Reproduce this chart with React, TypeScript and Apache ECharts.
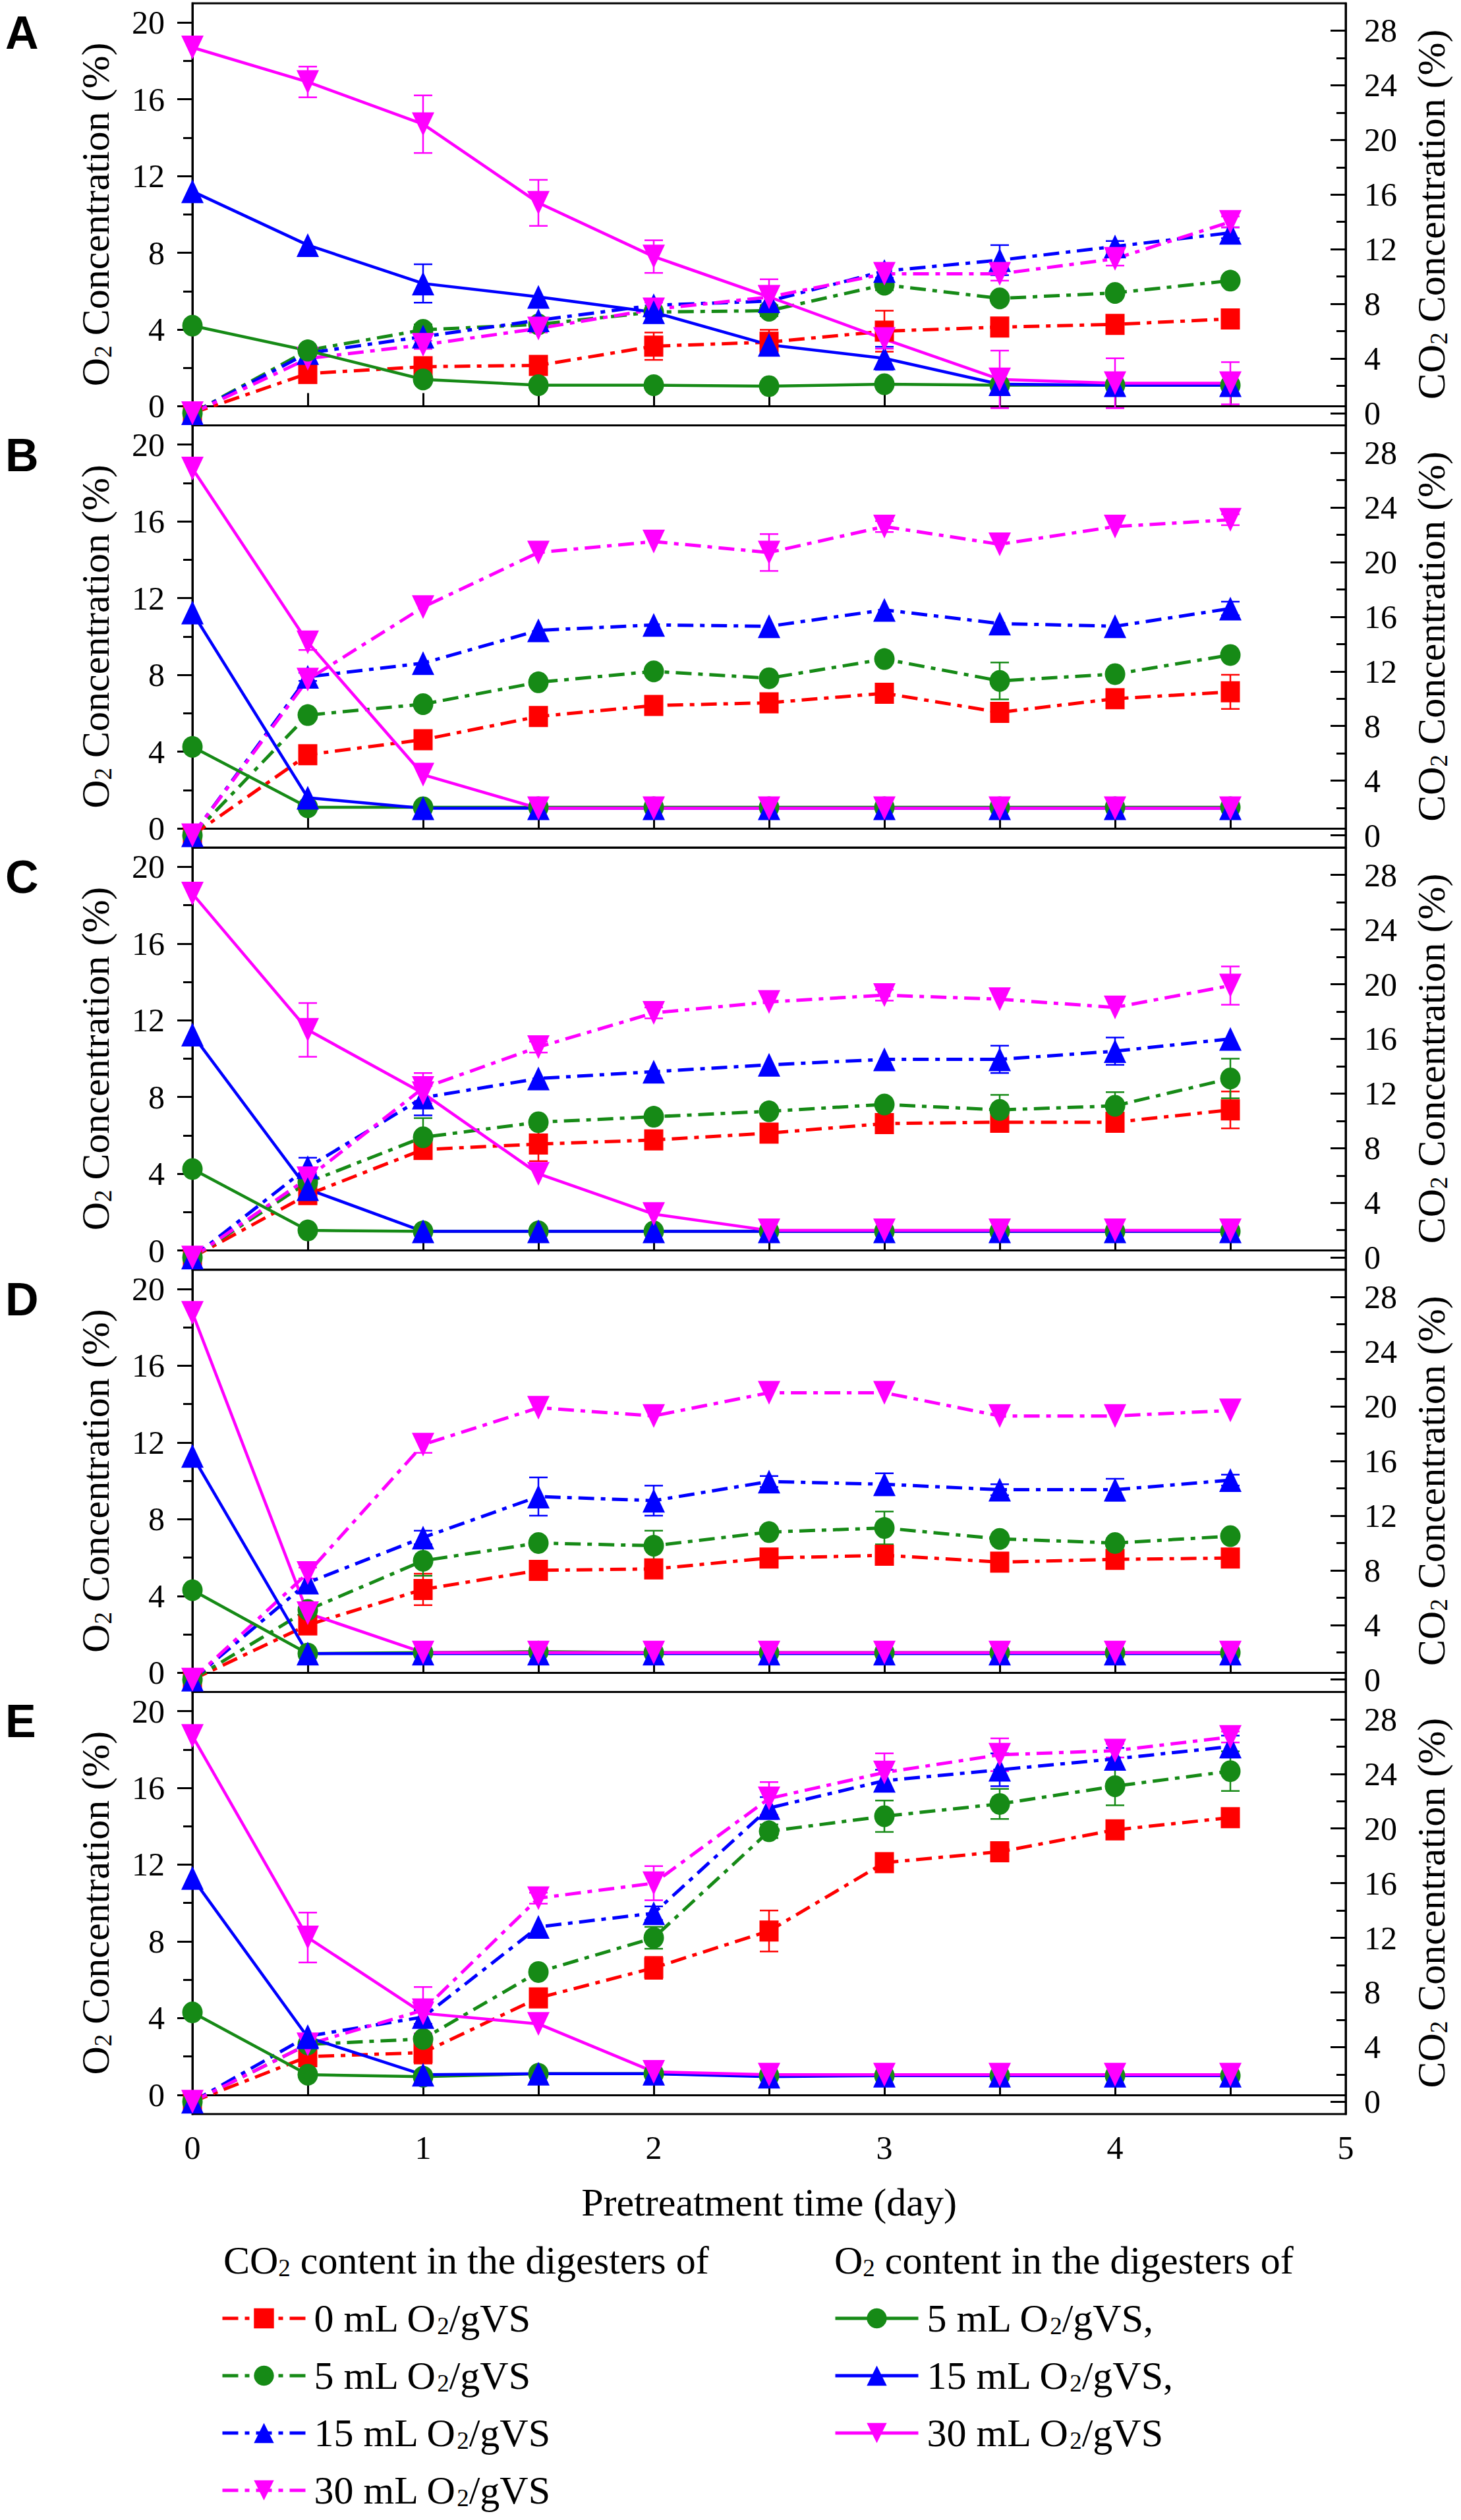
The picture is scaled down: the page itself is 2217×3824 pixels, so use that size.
import React, { useEffect, useRef } from "react";
import * as echarts from "echarts";

// ---------- data ----------
const days = [0, 0.5, 1, 1.5, 2, 2.5, 3, 3.5, 4, 4.5];
const panelLetters = ["A", "B", "C", "D", "E"];
const xTickLabels = [0, 1, 2, 3, 4, 5];
const o2MajorTicks = [0, 4, 8, 12, 16, 20];
const o2MinorTicks = [2, 6, 10, 14, 18];
const co2MajorTicks = [0, 4, 8, 12, 16, 20, 24, 28];
const co2MinorTicks = [2, 6, 10, 14, 18, 22, 26];
const ZERO = [0, 0, 0, 0, 0, 0, 0, 0, 0, 0];

// Panel A
const A_O2_5 = [4.2, 2.9, 1.4, 1.1, 1.1, 1.05, 1.15, 1.1, 1.1, 1.1];
const A_O2_15 = [11.2, 8.4, 6.4, 5.7, 4.9, 3.2, 2.5, 1.15, 1.1, 1.1];
const A_O2_30 = [18.7, 16.9, 14.7, 10.6, 7.8, 5.7, 3.5, 1.4, 1.2, 1.2];
const A_CO2_0 = [0, 2.9, 3.4, 3.5, 4.9, 5.2, 6.0, 6.3, 6.5, 6.9];
const A_CO2_5 = [0, 4.6, 6.1, 6.5, 7.4, 7.5, 9.4, 8.4, 8.8, 9.7];
const A_CO2_15 = [0, 4.4, 5.6, 6.8, 7.9, 8.2, 10.4, 11.2, 12.2, 13.2];
const A_CO2_30 = [0, 4.0, 5.0, 6.2, 7.6, 8.5, 10.2, 10.2, 11.3, 14.0];
const A_O2_15_ERR = [0, 0, 1.0, 0, 0, 0, 0.6, 0, 0, 0];
const A_O2_30_ERR = [0, 0.8, 1.5, 1.2, 0.85, 0, 0.5, 1.5, 1.3, 1.1];
const A_CO2_0_ERR = [0, 0.4, 0.6, 0.6, 1.0, 0.9, 1.5, 0.5, 0.5, 0.5];
const A_CO2_5_ERR = [0, 0, 0.4, 0, 0, 0.4, 0.4, 0, 0, 0];
const A_CO2_15_ERR = [0, 0, 0, 0, 0, 0, 0.5, 1.1, 0.4, 0.4];
const A_CO2_30_ERR = [0, 0, 0.3, 0.3, 0.5, 1.3, 0.6, 0.5, 0.5, 0.4];

// Panel B
const B_O2_5 = [4.25, 1.1, 1.1, 1.1, 1.1, 1.1, 1.1, 1.1, 1.1, 1.1];
const B_O2_15 = [11.25, 1.6, 1.05, 1.05, 1.05, 1.05, 1.05, 1.05, 1.05, 1.05];
const B_O2_30 = [18.75, 9.7, 2.8, 1.05, 1.05, 1.05, 1.05, 1.05, 1.05, 1.05];
const B_CO2_0 = [0, 5.9, 7.0, 8.7, 9.5, 9.7, 10.4, 9.0, 10.0, 10.5];
const B_CO2_5 = [0, 8.8, 9.6, 11.2, 12.0, 11.5, 12.9, 11.3, 11.8, 13.2];
const B_CO2_15 = [0, 11.6, 12.6, 15.0, 15.4, 15.3, 16.5, 15.5, 15.3, 16.6];
const B_CO2_30 = [0, 11.4, 16.7, 20.7, 21.5, 20.7, 22.6, 21.3, 22.6, 23.1];
const B_O2_30_ERR = [0, 0.4, 0, 0, 0, 0, 0, 0, 0, 0];
const B_CO2_0_ERR = [0, 0, 0, 0, 0, 0, 0, 0, 0, 1.25];
const B_CO2_5_ERR = [0, 0, 0, 0, 0, 0, 0, 1.35, 0, 0];
const B_CO2_15_ERR = [0, 0.3, 0, 0, 0, 0, 0, 0, 0, 0.5];
const B_CO2_30_ERR = [0, 0.6, 0, 0, 0, 1.35, 0.4, 0, 0, 0.4];

// Panel C
const C_O2_5 = [4.25, 1.05, 1.0, 1.0, 1.0, 1.0, 1.0, 1.0, 1.0, 1.0];
const C_O2_15 = [11.25, 3.2, 1.0, 1.0, 1.0, 1.0, 1.0, 1.0, 1.0, 1.0];
const C_O2_30 = [18.6, 11.5, 8.2, 4.0, 1.9, 1.05, 1.05, 1.05, 1.05, 1.05];
const C_CO2_0 = [0, 4.6, 7.9, 8.3, 8.6, 9.1, 9.8, 9.9, 9.9, 10.8];
const C_CO2_5 = [0, 5.5, 8.8, 9.9, 10.3, 10.7, 11.2, 10.8, 11.1, 13.1];
const C_CO2_15 = [0, 6.6, 11.7, 13.1, 13.6, 14.1, 14.5, 14.5, 15.1, 16.0];
const C_CO2_30 = [0, 5.8, 12.4, 15.4, 17.9, 18.7, 19.2, 18.9, 18.3, 19.9];
const C_O2_30_ERR = [0, 1.4, 0.4, 0, 0, 0, 0, 0, 0, 0];
const C_CO2_0_ERR = [0, 0.4, 0.5, 1.25, 0, 0, 0, 0, 0, 1.35];
const C_CO2_5_ERR = [0, 0.5, 1.4, 0, 0, 0, 0, 1.1, 1.0, 1.45];
const C_CO2_15_ERR = [0, 0.7, 1.3, 0, 0, 0, 0, 1.0, 1.0, 0];
const C_CO2_30_ERR = [0, 0.4, 1.1, 0.4, 0.4, 0, 0.4, 0, 0, 1.4];

// Panel D
const D_O2_5 = [4.3, 1.0, 1.05, 1.1, 1.05, 1.05, 1.05, 1.05, 1.05, 1.05];
const D_O2_15 = [11.3, 1.0, 1.0, 1.0, 1.0, 1.0, 1.0, 1.0, 1.0, 1.0];
const D_O2_30 = [18.75, 3.1, 1.05, 1.05, 1.05, 1.05, 1.05, 1.05, 1.05, 1.05];
const D_CO2_0 = [0, 4.0, 6.6, 8.0, 8.1, 8.9, 9.1, 8.6, 8.8, 8.9];
const D_CO2_5 = [0, 5.1, 8.7, 10.0, 9.8, 10.8, 11.1, 10.3, 10.0, 10.5];
const D_CO2_15 = [0, 7.1, 10.4, 13.4, 13.1, 14.5, 14.3, 13.9, 13.9, 14.6];
const D_CO2_30 = [0, 7.8, 17.2, 19.9, 19.3, 21.0, 21.0, 19.3, 19.3, 19.7];
const D_CO2_0_ERR = [0, 0, 1.15, 0, 0, 0, 0, 0, 0, 0];
const D_CO2_5_ERR = [0, 0, 1.1, 0, 1.1, 0, 1.2, 0, 0, 0];
const D_CO2_15_ERR = [0, 0, 0.5, 1.4, 1.1, 0.4, 0.8, 0.4, 0.8, 0.4];
const D_CO2_30_ERR = [0, 0.4, 0.6, 0, 0, 0, 0, 0, 0, 0];

// Panel E
const E_O2_5 = [4.3, 1.05, 0.95, 1.1, 1.1, 1.0, 1.0, 1.0, 1.0, 1.0];
const E_O2_15 = [11.3, 3.0, 1.05, 1.1, 1.1, 0.95, 1.0, 1.0, 1.0, 1.0];
const E_O2_30 = [18.7, 8.2, 4.25, 3.7, 1.2, 1.05, 1.05, 1.05, 1.05, 1.05];
const E_CO2_0 = [0, 3.3, 3.6, 7.6, 9.8, 12.5, 17.5, 18.3, 19.9, 20.8];
const E_CO2_5 = [0, 4.2, 4.6, 9.5, 12.0, 19.8, 20.9, 21.8, 23.1, 24.2];
const E_CO2_15 = [0, 4.8, 6.2, 12.8, 13.8, 21.5, 23.5, 24.3, 25.1, 26.0];
const E_CO2_30 = [0, 4.2, 6.7, 14.9, 16.0, 22.2, 24.1, 25.4, 25.7, 26.7];
const E_O2_30_ERR = [0, 1.3, 0.6, 0, 0, 0, 0, 0, 0, 0];
const E_CO2_0_ERR = [0, 0, 0.8, 0, 0.8, 1.5, 0, 0, 0, 0];
const E_CO2_5_ERR = [0, 0, 1.0, 0, 0.8, 0.5, 1.15, 1.1, 1.4, 1.45];
const E_CO2_15_ERR = [0, 0, 0.5, 0, 0.5, 0.8, 0.8, 1.2, 0.8, 0.8];
const E_CO2_30_ERR = [0, 0, 1.7, 0.4, 1.25, 1.2, 1.4, 1.2, 0.5, 0.4];

const legendLabels: Record<string, string> = {
  co2_0: "0 mL O|2|/gVS",
  co2_5: "5 mL O|2|/gVS",
  co2_15: "15 mL O|2|/gVS",
  co2_30: "30 mL O|2|/gVS",
  o2_5: "5 mL O|2|/gVS,",
  o2_15: "15 mL O|2|/gVS,",
  o2_30: "30 mL O|2|/gVS",
};

// ---------- assembled tables ----------
const panels = [
  { o2: [A_O2_5, A_O2_15, A_O2_30], o2Err: [ZERO, A_O2_15_ERR, A_O2_30_ERR], co2: [A_CO2_0, A_CO2_5, A_CO2_15, A_CO2_30], co2Err: [A_CO2_0_ERR, A_CO2_5_ERR, A_CO2_15_ERR, A_CO2_30_ERR] },
  { o2: [B_O2_5, B_O2_15, B_O2_30], o2Err: [ZERO, ZERO, B_O2_30_ERR], co2: [B_CO2_0, B_CO2_5, B_CO2_15, B_CO2_30], co2Err: [B_CO2_0_ERR, B_CO2_5_ERR, B_CO2_15_ERR, B_CO2_30_ERR] },
  { o2: [C_O2_5, C_O2_15, C_O2_30], o2Err: [ZERO, ZERO, C_O2_30_ERR], co2: [C_CO2_0, C_CO2_5, C_CO2_15, C_CO2_30], co2Err: [C_CO2_0_ERR, C_CO2_5_ERR, C_CO2_15_ERR, C_CO2_30_ERR] },
  { o2: [D_O2_5, D_O2_15, D_O2_30], o2Err: [ZERO, ZERO, ZERO], co2: [D_CO2_0, D_CO2_5, D_CO2_15, D_CO2_30], co2Err: [D_CO2_0_ERR, D_CO2_5_ERR, D_CO2_15_ERR, D_CO2_30_ERR] },
  { o2: [E_O2_5, E_O2_15, E_O2_30], o2Err: [ZERO, ZERO, E_O2_30_ERR], co2: [E_CO2_0, E_CO2_5, E_CO2_15, E_CO2_30], co2Err: [E_CO2_0_ERR, E_CO2_5_ERR, E_CO2_15_ERR, E_CO2_30_ERR] },
];

// ---------- styles ----------
const FONT = '"Liberation Serif", "Times New Roman", Times, serif';
const RED = "#FF0000";
const GREEN = "#168A16";
const BLUE = "#0000FF";
const MAGENTA = "#FF00FF";
const DOWN_TRI = "path://M0,0L20,0L10,20Z";
const DASHDOT = [24, 10, 7, 10];

const o2Styles = [
  { key: "o2_5", color: GREEN, symbol: "circle", size: [31, 33] },
  { key: "o2_15", color: BLUE, symbol: "triangle", size: [34, 36] },
  { key: "o2_30", color: MAGENTA, symbol: DOWN_TRI, size: [34, 36] },
];
const co2Styles = [
  { key: "co2_0", color: RED, symbol: "rect", size: [29, 32] },
  { key: "co2_5", color: GREEN, symbol: "circle", size: [31, 33] },
  { key: "co2_15", color: BLUE, symbol: "triangle", size: [34, 36] },
  { key: "co2_30", color: MAGENTA, symbol: DOWN_TRI, size: [34, 36] },
];

function richFor(size: number) {
  return {
    t: { fontSize: size, fontFamily: FONT, color: "#000", lineHeight: size },
    s: { fontSize: Math.round(size * 0.62), fontFamily: FONT, color: "#000", lineHeight: Math.round(size * 0.3), verticalAlign: "bottom" as const },
  };
}
function subText(parts: string) {
  const [a, b, c] = parts.split("|");
  return `{t|${a}}{s|${b}}{t|${c}}`;
}

const GRID_LEFT = 292;
const GRID_RIGHT_X = 2042;
const GRID_TOP0 = 5;
const GRID_H = 640.6;

function buildOption() {
  const grids: any[] = [];
  const xAxes: any[] = [];
  const yAxes: any[] = [];
  const series: any[] = [];
  const graphics: any[] = [];

  panels.forEach((p, k) => {
    const top = GRID_TOP0 + k * GRID_H;
    grids.push({
      left: GRID_LEFT,
      top,
      width: GRID_RIGHT_X - GRID_LEFT,
      height: GRID_H,
      show: true,
      borderColor: "#000",
      borderWidth: 3,
      backgroundColor: "transparent",
    });
    const last = k === panels.length - 1;
    xAxes.push({
      type: "value",
      gridIndex: k,
      min: 0,
      max: 5,
      interval: 0.5,
      axisLine: { show: true, lineStyle: { color: "#000", width: 3 } },
      axisTick: { show: true, inside: true, length: 20, lineStyle: { color: "#000", width: 3 } },
      axisLabel: {
        show: last,
        margin: 26,
        fontSize: 50,
        fontFamily: FONT,
        color: "#000",
        formatter: (v: number) => (xTickLabels.includes(v) ? String(v) : ""),
      },
      splitLine: { show: false },
      name: last ? "Pretreatment time (day)" : "",
      nameLocation: "middle",
      nameGap: 104,
      nameTextStyle: { fontSize: 60, fontFamily: FONT, color: "#000" },
    });
    // left major (O2)
    yAxes.push({
      type: "value",
      gridIndex: k,
      position: "left",
      min: -1,
      max: 21,
      axisLine: { show: true, lineStyle: { color: "#000", width: 3 } },
      axisTick: { show: true, inside: false, length: 23, lineStyle: { color: "#000", width: 3 }, customValues: o2MajorTicks },
      axisLabel: { show: true, customValues: o2MajorTicks, margin: 42, fontSize: 50, fontFamily: FONT, color: "#000" },
      splitLine: { show: false },
      name: "{t|O}{s|2}{t| Concentration (%)}",
      nameLocation: "middle",
      nameGap: 117,
      nameTextStyle: { fontSize: 60, fontFamily: FONT, color: "#000", rich: richFor(60) },
    });
    // left minor
    yAxes.push({
      type: "value",
      gridIndex: k,
      position: "left",
      min: -1,
      max: 21,
      axisLine: { show: false },
      axisTick: { show: true, inside: false, length: 14, lineStyle: { color: "#000", width: 3 }, customValues: o2MinorTicks },
      axisLabel: { show: false },
      splitLine: { show: false },
    });
    // right major (CO2)
    yAxes.push({
      type: "value",
      gridIndex: k,
      position: "right",
      min: -0.9,
      max: 30,
      axisLine: { show: true, lineStyle: { color: "#000", width: 3 } },
      axisTick: { show: true, inside: true, length: 23, lineStyle: { color: "#000", width: 3 }, customValues: co2MajorTicks },
      axisLabel: { show: true, customValues: co2MajorTicks, margin: 28, fontSize: 50, fontFamily: FONT, color: "#000" },
      splitLine: { show: false },
      name: "{t|CO}{s|2}{t| Concentration (%)}",
      nameLocation: "middle",
      nameGap: 100,
      nameTextStyle: { fontSize: 60, fontFamily: FONT, color: "#000", rich: richFor(60) },
    });
    // right minor
    yAxes.push({
      type: "value",
      gridIndex: k,
      position: "right",
      min: -0.9,
      max: 30,
      axisLine: { show: false },
      axisTick: { show: true, inside: true, length: 14, lineStyle: { color: "#000", width: 3 }, customValues: co2MinorTicks },
      axisLabel: { show: false },
      splitLine: { show: false },
    });

    const addSeries = (vals: number[], errs: number[], st: any, yIdx: number, dashed: boolean) => {
      const errData = days
        .map((d, i) => (errs[i] > 0 ? [d, vals[i] - errs[i], vals[i] + errs[i]] : null))
        .filter((v) => v !== null);
      if (errData.length) {
        series.push({
          type: "custom",
          xAxisIndex: k,
          yAxisIndex: yIdx,
          silent: true,
          z: 2,
          data: errData,
          encode: { x: 0, y: [1, 2] },
          renderItem: (params: any, api: any) => {
            const x = api.value(0);
            const pLo = api.coord([x, api.value(1)]);
            const pHi = api.coord([x, api.value(2)]);
            const w = 14;
            const style = { stroke: st.color, lineWidth: 2.5 };
            return {
              type: "group",
              children: [
                { type: "line", shape: { x1: pLo[0], y1: pLo[1], x2: pHi[0], y2: pHi[1] }, style },
                { type: "line", shape: { x1: pHi[0] - w, y1: pHi[1], x2: pHi[0] + w, y2: pHi[1] }, style },
                { type: "line", shape: { x1: pLo[0] - w, y1: pLo[1], x2: pLo[0] + w, y2: pLo[1] }, style },
              ],
            };
          },
        });
      }
      series.push({
        type: "line",
        name: st.key,
        xAxisIndex: k,
        yAxisIndex: yIdx,
        data: days.map((d, i) => [d, vals[i]]),
        symbol: st.symbol,
        symbolSize: st.size,
        showAllSymbol: true,
        lineStyle: { color: st.color, width: dashed ? 5 : 4.5, type: dashed ? DASHDOT : "solid", cap: "butt" },
        itemStyle: { color: st.color },
        z: 3,
        clip: false,
      });
    };

    p.co2.forEach((vals, j) => addSeries(vals, p.co2Err[j], co2Styles[j], 4 * k + 2, true));
    p.o2.forEach((vals, j) => addSeries(vals, p.o2Err[j], o2Styles[j], 4 * k, false));

    graphics.push({
      type: "text",
      left: 8,
      top: top + 10,
      style: {
        text: panelLetters[k],
        fontSize: 70,
        fontWeight: "bold",
        fontFamily: '"Liberation Sans", Arial, Helvetica, sans-serif',
        fill: "#000",
      },
    });
  });

  graphics.push({
    type: "text",
    left: 339,
    top: 3400,
    style: { text: "{t|CO}{s|2}{t| content in the digesters of}", rich: richFor(60), fill: "#000" },
  });
  graphics.push({
    type: "text",
    left: 1266,
    top: 3400,
    style: { text: "{t|O}{s|2}{t| content in the digesters of}", rich: richFor(60), fill: "#000" },
  });

  const legendCommon = {
    orient: "vertical",
    top: 3488,
    height: 330,
    padding: 0,
    itemWidth: 126,
    itemHeight: 38,
    itemGap: 27,
    selectedMode: false,
    lineStyle: { width: 5 },
    formatter: (name: string) => subText(legendLabels[name]),
    textStyle: { fontSize: 60, fontFamily: FONT, color: "#000", rich: richFor(60), padding: [0, 0, 0, 8] },
  };

  return {
    animation: false,
    backgroundColor: "#fff",
    grid: grids,
    xAxis: xAxes,
    yAxis: yAxes,
    series,
    graphic: graphics,
    legend: [
      { ...legendCommon, left: 335, data: co2Styles.map((s) => s.key) },
      { ...legendCommon, left: 1265, data: o2Styles.map((s) => s.key) },
    ],
  };
}

export default function App() {
  const ref = useRef<HTMLDivElement>(null);
  useEffect(() => {
    document.body.style.margin = "0";
    const chart = echarts.init(ref.current as HTMLDivElement, null, { renderer: "svg" });
    chart.setOption(buildOption() as any);
    return () => chart.dispose();
  }, []);
  return <div ref={ref} style={{ width: 2217, height: 3824 }} />;
}
